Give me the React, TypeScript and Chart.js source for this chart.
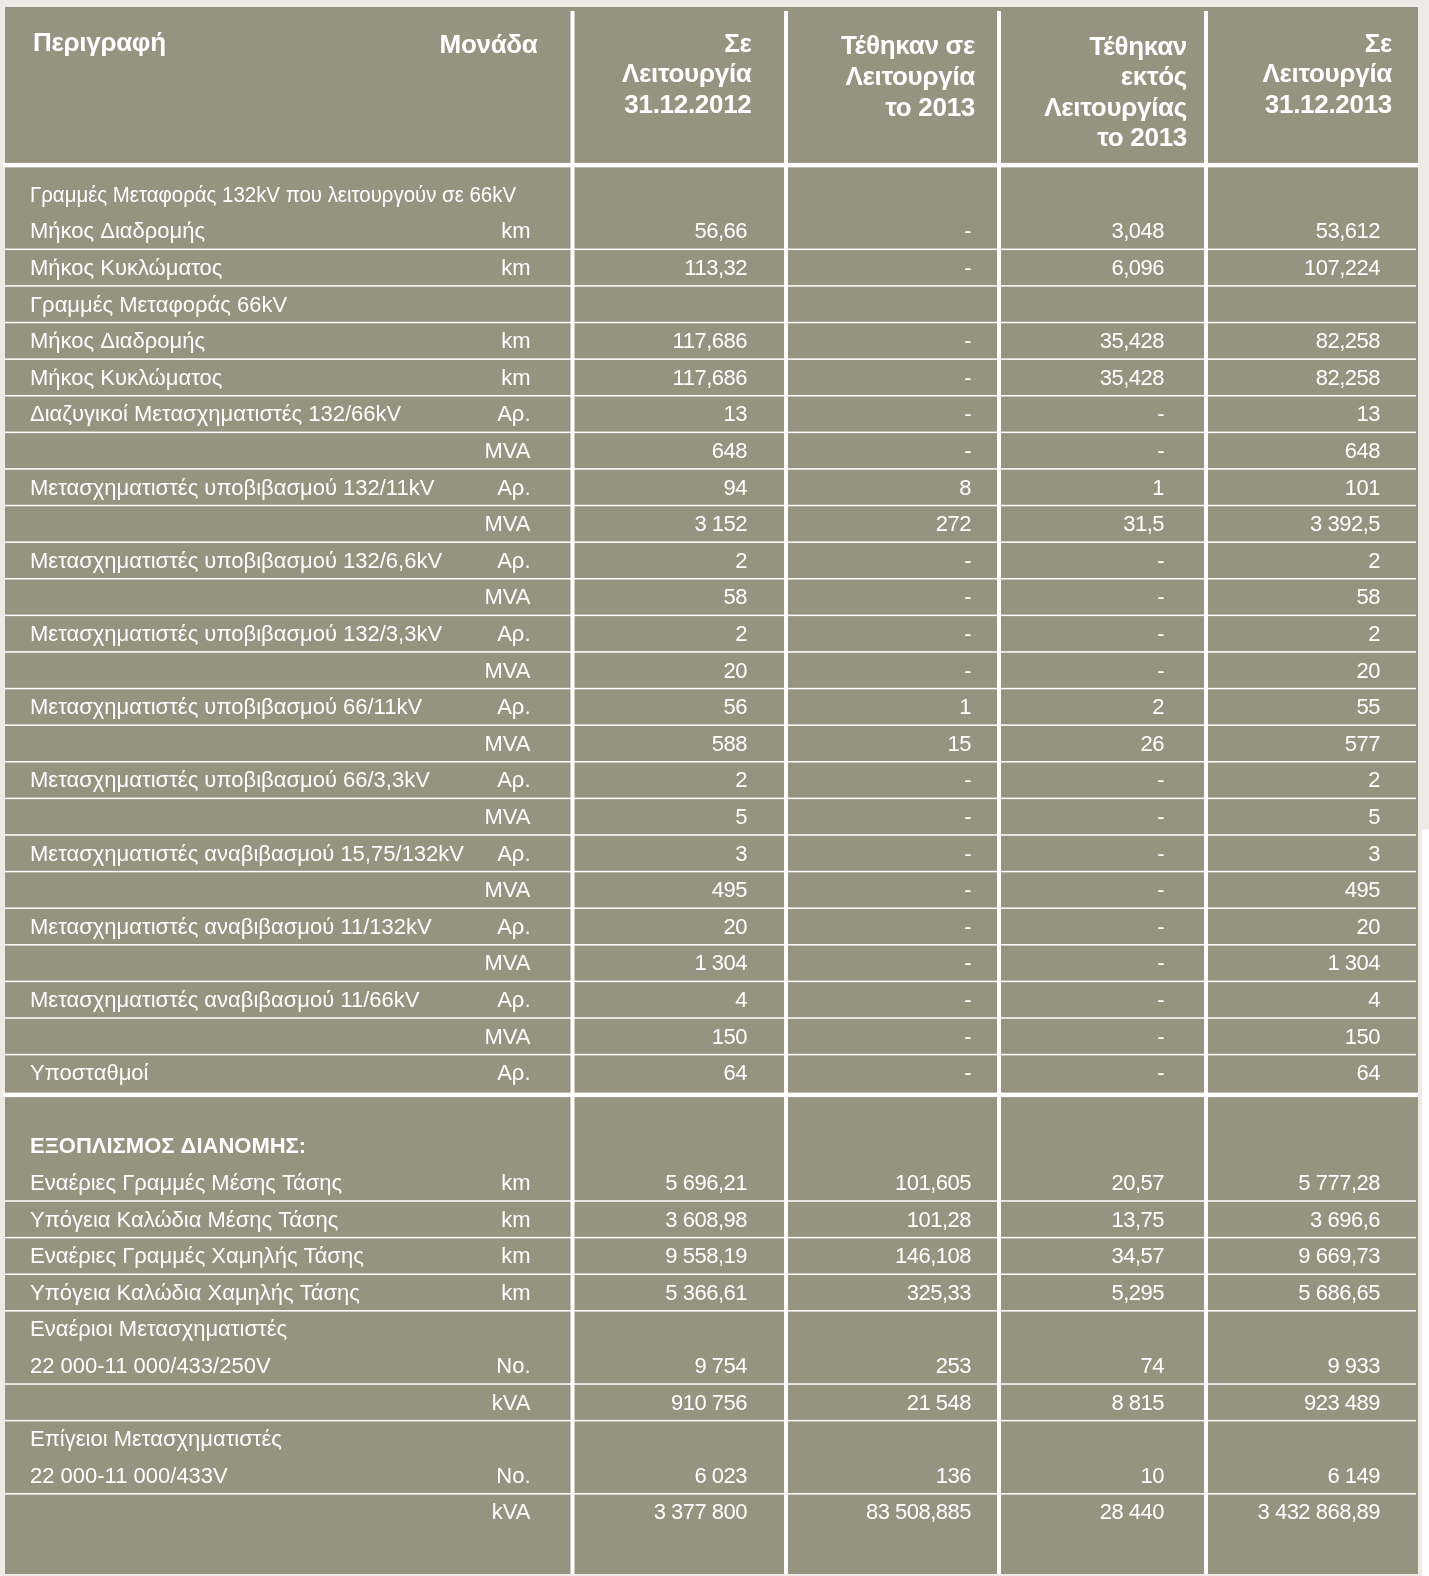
import React, { useEffect, useRef } from "react";
import { Chart, registerables } from "chart.js";

Chart.register(...registerables);

// ---------- DATA ----------
const headDescription = "Περιγραφή";
const headUnit = "Μονάδα";
const columnHeaders: string[][] = [
  ["Σε", "Λειτουργία", "31.12.2012"],
  ["Τέθηκαν σε", "Λειτουργία", "το 2013"],
  ["Τέθηκαν", "εκτός", "Λειτουργίας", "το 2013"],
  ["Σε", "Λειτουργία", "31.12.2013"],
];

const descriptions: string[] = [
  "Γραμμές Μεταφοράς 132kV που λειτουργούν σε 66kV",
  "Μήκος Διαδρομής",
  "Μήκος Κυκλώματος",
  "Γραμμές Μεταφοράς 66kV",
  "Μήκος Διαδρομής",
  "Μήκος Κυκλώματος",
  "Διαζυγικοί Μετασχηματιστές 132/66kV",
  "",
  "Μετασχηματιστές υποβιβασμού 132/11kV",
  "",
  "Μετασχηματιστές υποβιβασμού 132/6,6kV",
  "",
  "Μετασχηματιστές υποβιβασμού 132/3,3kV",
  "",
  "Μετασχηματιστές υποβιβασμού 66/11kV",
  "",
  "Μετασχηματιστές υποβιβασμού 66/3,3kV",
  "",
  "Μετασχηματιστές αναβιβασμού 15,75/132kV",
  "",
  "Μετασχηματιστές αναβιβασμού 11/132kV",
  "",
  "Μετασχηματιστές αναβιβασμού 11/66kV",
  "",
  "Υποσταθμοί",
  "",
  "ΕΞΟΠΛΙΣΜΟΣ ΔΙΑΝΟΜΗΣ:",
  "Εναέριες Γραμμές Μέσης Τάσης",
  "Υπόγεια Καλώδια Μέσης Τάσης",
  "Εναέριες Γραμμές Χαμηλής Τάσης",
  "Υπόγεια Καλώδια Χαμηλής Τάσης",
  "Εναέριοι Μετασχηματιστές",
  "22 000-11 000/433/250V",
  "",
  "Επίγειοι Μετασχηματιστές",
  "22 000-11 000/433V",
  "",
];

const units: string[] = [
  "", "km", "km", "", "km", "km", "Αρ.", "MVA", "Αρ.", "MVA", "Αρ.", "MVA",
  "Αρ.", "MVA", "Αρ.", "MVA", "Αρ.", "MVA", "Αρ.", "MVA", "Αρ.", "MVA", "Αρ.", "MVA",
  "Αρ.", "", "", "km", "km", "km", "km", "", "No.", "kVA", "", "No.", "kVA",
];

const inOperation2012: string[] = [
  "", "56,66", "113,32", "", "117,686", "117,686", "13", "648", "94", "3 152", "2", "58",
  "2", "20", "56", "588", "2", "5", "3", "495", "20", "1 304", "4", "150",
  "64", "", "", "5 696,21", "3 608,98", "9 558,19", "5 366,61", "", "9 754", "910 756", "", "6 023", "3 377 800",
];

const added2013: string[] = [
  "", "-", "-", "", "-", "-", "-", "-", "8", "272", "-", "-",
  "-", "-", "1", "15", "-", "-", "-", "-", "-", "-", "-", "-",
  "-", "", "", "101,605", "101,28", "146,108", "325,33", "", "253", "21 548", "", "136", "83 508,885",
];

const removed2013: string[] = [
  "", "3,048", "6,096", "", "35,428", "35,428", "-", "-", "1", "31,5", "-", "-",
  "-", "-", "2", "26", "-", "-", "-", "-", "-", "-", "-", "-",
  "-", "", "", "20,57", "13,75", "34,57", "5,295", "", "74", "8 815", "", "10", "28 440",
];

const inOperation2013: string[] = [
  "", "53,612", "107,224", "", "82,258", "82,258", "13", "648", "101", "3 392,5", "2", "58",
  "2", "20", "55", "577", "2", "5", "3", "495", "20", "1 304", "4", "150",
  "64", "", "", "5 777,28", "3 696,6", "9 669,73", "5 686,65", "", "9 933", "923 489", "", "6 149", "3 432 868,89",
];

// ---------- LAYOUT / STYLE ----------
const PAGE_BG = "#EEEAE6";
const CELL_BG = "#979381";
const WHITE = "#FFFFFF";
const boldRows = [26];
const condensedRows: Record<number, number> = { 0: 486 };
const noRuleRows = [0, 24, 25, 26, 31, 34, 36];
const headerSeparator = -0.8;
const sectionSeparator = 24.6;
const columnLines = [567.5, 781, 994, 1201];
const descLeft = 25;
const unitRight = 525.5;
const headDescLeft = 28;
const headUnitRight = 532.5;
const dataRight = [742, 966, 1159, 1375];
const headRight = [746.5, 970, 1182, 1387];
const headFirstLine = [-4.11, -4.1, -4.02, -4.01, -4.1];
const headPitch = 0.835;
const textShift = 0.035;

const TEXT_FONT = '22px "Liberation Sans", Arial, sans-serif';
const BOLD_TEXT_FONT = 'bold 22px "Liberation Sans", Arial, sans-serif';
const HEAD_FONT = 'bold 26px "Liberation Sans", Arial, sans-serif';

const tablePlugin = {
  id: "tableDraw",
  beforeDraw(chart: any) {
    const { ctx, chartArea: a, scales } = chart;
    const y = scales.y;
    ctx.save();
    ctx.fillStyle = PAGE_BG;
    ctx.fillRect(0, 0, chart.width, chart.height);
    ctx.fillStyle = WHITE;
    const notchTop = y.getPixelForValue(17.35);
    ctx.fillRect(a.right + 4, notchTop, chart.width - a.right - 4, chart.height - notchTop);
    ctx.fillStyle = CELL_BG;
    ctx.fillRect(a.left, a.top, a.right - a.left, a.bottom - a.top);
    ctx.restore();
  },
  afterDraw(chart: any) {
    const { ctx, chartArea: a, scales } = chart;
    const x = scales.x;
    const y = scales.y;
    ctx.save();
    ctx.fillStyle = WHITE;

    // thin row rules
    for (let i = 0; i < descriptions.length; i++) {
      if (noRuleRows.includes(i)) continue;
      const py = y.getPixelForValue(i + 0.5);
      ctx.fillRect(a.left, py - 0.75, a.right - a.left - 2, 1.5);
    }
    // thick separators
    [headerSeparator, sectionSeparator].forEach((v) => {
      const py = y.getPixelForValue(v);
      ctx.fillRect(a.left - 2, py - 2.25, a.right - a.left + 2, 4.5);
    });
    // column lines
    columnLines.forEach((v) => {
      const px = x.getPixelForValue(v);
      ctx.fillRect(px - 2, a.top + 4, 4, a.bottom - a.top - 4);
    });

    ctx.textBaseline = "middle";

    // header
    (ctx as any).letterSpacing = "-0.3px";
    ctx.font = HEAD_FONT;
    ctx.textAlign = "left";
    ctx.fillText(headDescription, x.getPixelForValue(headDescLeft), y.getPixelForValue(headFirstLine[0]));
    ctx.textAlign = "right";
    ctx.fillText(headUnit, x.getPixelForValue(headUnitRight), y.getPixelForValue(headFirstLine[0] + 0.05));
    columnHeaders.forEach((lines, c) => {
      lines.forEach((t, k) => {
        ctx.fillText(
          t,
          x.getPixelForValue(headRight[c]),
          y.getPixelForValue(headFirstLine[c + 1] + k * headPitch)
        );
      });
    });

    // body
    const cols = [inOperation2012, added2013, removed2013, inOperation2013];
    for (let i = 0; i < descriptions.length; i++) {
      const py = y.getPixelForValue(i + textShift);
      (ctx as any).letterSpacing = "0px";
      ctx.font = boldRows.includes(i) ? BOLD_TEXT_FONT : TEXT_FONT;
      ctx.textAlign = "left";
      if (descriptions[i]) {
        const mw = condensedRows[i];
        if (mw) ctx.fillText(descriptions[i], x.getPixelForValue(descLeft), py, mw);
        else ctx.fillText(descriptions[i], x.getPixelForValue(descLeft), py);
      }
      ctx.font = TEXT_FONT;
      ctx.textAlign = "right";
      if (units[i]) ctx.fillText(units[i], x.getPixelForValue(unitRight), py);
      (ctx as any).letterSpacing = "-0.5px";
      cols.forEach((arr, c) => {
        if (arr[i]) ctx.fillText(arr[i], x.getPixelForValue(dataRight[c]), py);
      });
    }
    ctx.restore();
  },
};

export default function App() {
  const ref = useRef<HTMLCanvasElement | null>(null);
  useEffect(() => {
    if (!ref.current) return;
    const chart = new Chart(ref.current, {
      type: "scatter",
      data: { datasets: [] },
      options: {
        animation: false,
        responsive: false,
        devicePixelRatio: 1,
        layout: { padding: { left: 5, right: 11, top: 7, bottom: 2 } },
        plugins: { legend: { display: false }, tooltip: { enabled: false } },
        scales: {
          x: { type: "linear", min: 0, max: 1413, display: false },
          y: { type: "linear", min: -5.12, max: 37.69, reverse: true, display: false },
        },
      },
      plugins: [tablePlugin],
    } as any);
    return () => chart.destroy();
  }, []);
  return (
    <div style={{ position: "absolute", left: 0, top: 0, width: 1429, height: 1576 }}>
      <canvas ref={ref} width={1429} height={1576} style={{ display: "block" }} />
    </div>
  );
}
